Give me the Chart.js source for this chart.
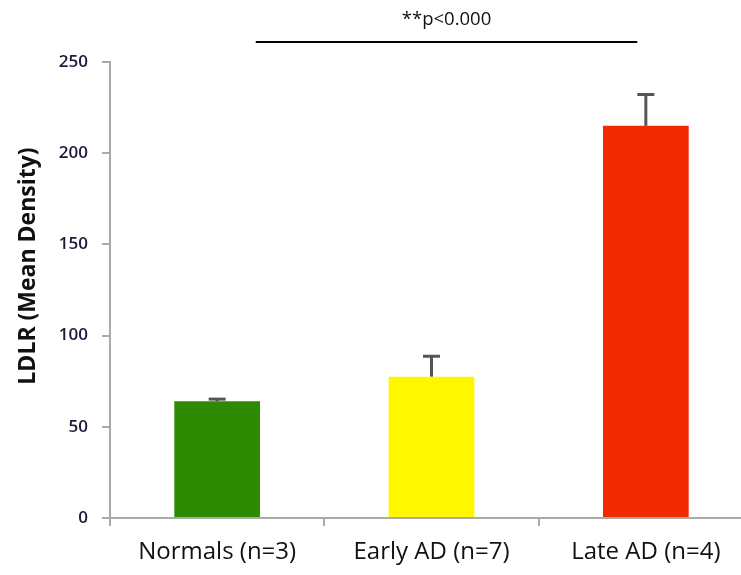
<!DOCTYPE html>
<html>
<head>
<meta charset="utf-8">
<script src="https://cdn.jsdelivr.net/npm/chart.js@4"></script>
<style>
  body { margin: 0; overflow: hidden; background: #fff; }
  #wrap { width: 760px; height: 575px; }
</style>
</head>
<body>
<div id="wrap"><canvas id="ldlrChart"></canvas></div>
<script>
const categories = ["Normals (n=3)", "Early AD (n=7)", "Late AD (n=4)"];
const meanDensity = [64, 77.5, 215];
const errorUp = [2, 12, 18];
const barColors = ["#2e8a00", "#fff700", "#f22a00"];
const yTicks = [0, 50, 100, 150, 200, 250];
const yTitle = "LDLR (Mean Density)";
const sigLabel = "**p<0.000";
const sigFrom = 0.18, sigTo = 1.96, sigLevel = 261;

const errorBars = {
  id: "errorBars",
  afterDatasetsDraw(chart) {
    const ctx = chart.ctx;
    const y = chart.scales.y;
    const meta = chart.getDatasetMeta(0);
    ctx.save();
    ctx.strokeStyle = "#555";
    ctx.lineWidth = 3;
    meta.data.forEach((bar, i) => {
      const top = y.getPixelForValue(meanDensity[i] + errorUp[i]);
      ctx.beginPath();
      ctx.moveTo(bar.x, bar.y);
      ctx.lineTo(bar.x, top + 1);
      ctx.stroke();
      ctx.beginPath();
      ctx.moveTo(bar.x - 8.5, top + 1.5);
      ctx.lineTo(bar.x + 8.5, top + 1.5);
      ctx.stroke();
    });
    ctx.restore();
  }
};

// significance bar + y title (title sits a bit above the axis centre in the original)
const annotations = {
  id: "annotations",
  afterDraw(chart) {
    const ctx = chart.ctx;
    const x = chart.scales.x, y = chart.scales.y;
    const x1 = x.getPixelForValue(sigFrom), x2 = x.getPixelForValue(sigTo);
    const ly = y.getPixelForValue(sigLevel);
    ctx.save();
    ctx.strokeStyle = "#000";
    ctx.lineWidth = 2;
    ctx.beginPath();
    ctx.moveTo(x1, ly);
    ctx.lineTo(x2, ly);
    ctx.stroke();
    ctx.fillStyle = "#111";
    ctx.font = "18.5px 'Open Sans'";
    ctx.textAlign = "center";
    ctx.textBaseline = "middle";
    ctx.fillText(sigLabel, (x1 + x2) / 2, ly - 22);

    ctx.translate(28, chart.chartArea.top + 204);
    ctx.rotate(-Math.PI / 2);
    ctx.font = "bold 23px 'Open Sans'";
    ctx.fillText(yTitle, 0, 0);
    ctx.restore();
  }
};

new Chart(document.getElementById("ldlrChart"), {
  type: "bar",
  data: {
    labels: categories,
    datasets: [{
      data: meanDensity,
      backgroundColor: barColors,
      borderWidth: 0,
      barPercentage: 0.4,
      categoryPercentage: 1
    }]
  },
  options: {
    responsive: true,
    maintainAspectRatio: false,
    animation: false,
    layout: { padding: { top: 62, right: 7, left: 0, bottom: 0 } },
    plugins: { legend: { display: false }, tooltip: { enabled: false } },
    scales: {
      x: {
        afterFit: s => { s.height = 57; },
        grid: { drawOnChartArea: false, tickLength: 8, color: "#aaa", lineWidth: 2 },
        border: { color: "#aaa", width: 2 },
        ticks: { color: "#111", padding: 12, font: { family: "Open Sans", size: 24 } }
      },
      y: {
        min: 0,
        max: 250,
        afterFit: s => { s.width = 110; },
        afterBuildTicks: s => { s.ticks = yTicks.map(v => ({ value: v })); },
        grid: { drawOnChartArea: false, tickLength: 8, color: "#aaa", lineWidth: 2 },
        border: { color: "#aaa", width: 2 },
        ticks: { color: "#1a1a3a", padding: 14, font: { family: "Open Sans", size: 17, weight: "600" } }
      }
    }
  },
  plugins: [errorBars, annotations]
});
</script>
</body>
</html>
